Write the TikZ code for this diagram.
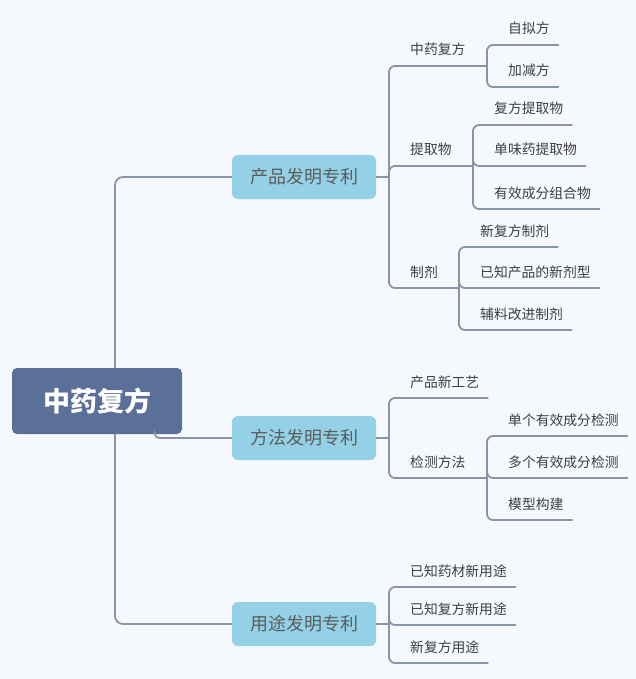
\documentclass[tikz,border=0pt]{standalone}
\usepackage{fontspec}
\setmainfont{Noto Sans CJK SC}
\usepackage{xcolor}
\usepackage{tikz}
\usetikzlibrary{positioning}
\definecolor{bgc}{HTML}{F5F9FD}
\definecolor{lnc}{HTML}{8A94A8}
\definecolor{catc}{HTML}{94D1E7}
\definecolor{rootc}{HTML}{5B7098}
\definecolor{txtc}{HTML}{3F3F3F}
\tikzset{
  root/.style={fill=rootc,rounded corners=5pt,minimum width=170pt,minimum height=66pt,text=white,font=\fontsize{27}{30}\selectfont\bfseries},
  cat/.style={fill=catc,rounded corners=6pt,minimum width=144pt,minimum height=44pt,text=txtc!85,font=\fontsize{18}{20}\selectfont},
  leaf/.style={anchor=base west,yshift=11pt,inner sep=0pt,text=txtc,font=\fontsize{13.8}{15}\selectfont},
  ln/.style={draw=lnc,line width=1.8pt},
  rc/.style={rounded corners=6pt},
}
\begin{document}
\begin{tikzpicture}[x=1pt,y=-1pt]
\fill[bgc] (0,0) rectangle (636,679);
\useasboundingbox (0,0) rectangle (636,679);
\node[root] (root) at (97,401) {中药复方};
\node[cat] (cp) at (304,177) {产品发明专利};
\node[cat] (ff) at (304,438) {方法发明专利};
\node[cat] (yt) at (304,624) {用途发明专利};
% trunk
\begin{scope}[on background layer/.style={}]
\draw[ln,rounded corners=8pt] ([xshift=18pt]root.north) |- (cp.west);
\draw[ln,rounded corners=8pt] ([xshift=18pt]root.south) |- (yt.west);
\draw[ln,rounded corners=4pt] ([xshift=58pt]root.south) |- (ff.west);
\end{scope}
% branch points
\coordinate (cpb) at (389,177);
\coordinate (ffb) at (389,438);
\coordinate (ytb) at (389,624);
\draw[ln] (cp.east) -- (cpb);
\draw[ln] (ff.east) -- (ffb);
\draw[ln] (yt.east) -- (ytb);
% 产品发明专利
\node[leaf] (zy) at (410,66) {中药复方};
\node[leaf] (tq) at (410,166) {提取物};
\node[leaf] (zj) at (410,288) {制剂};
\coordinate (zyb) at (487,66);
\coordinate (tqb) at (473,166);
\coordinate (zjb) at (459,288);
\draw[ln,rc] (cpb) |- (zyb);
\draw[ln,rc] (cpb) |- (tqb);
\draw[ln,rc] (cpb) |- (zjb);
\foreach \nm/\txt/\yy in {zn/自拟方/45,jj/加减方/87}
  {\node[leaf] (\nm) at (508,\yy) {\txt};
   \draw[ln,rc] (zyb) |- ([shift={(9,11)}]\nm.base east);}
\foreach \nm/\txt/\yy in {fq/复方提取物/125,dw/单味药提取物/166,yx/有效成分组合物/209}
  {\node[leaf] (\nm) at (494,\yy) {\txt};
   \draw[ln,rc] (tqb) |- ([shift={(9,11)}]\nm.base east);}
\foreach \nm/\txt/\yy in {xf/新复方制剂/247,yz/已知产品的新剂型/288,fl/辅料改进制剂/330}
  {\node[leaf] (\nm) at (480,\yy) {\txt};
   \draw[ln,rc] (zjb) |- ([shift={(9,11)}]\nm.base east);}
% 方法发明专利
\node[leaf] (gy) at (410,398) {产品新工艺};
\node[leaf] (jc) at (410,478) {检测方法};
\coordinate (jcb) at (487,478);
\draw[ln,rc] (ffb) |- ([shift={(9,11)}]gy.base east);
\draw[ln,rc] (ffb) |- (jcb);
\foreach \nm/\txt/\yy in {dg/单个有效成分检测/436,dd/多个有效成分检测/478,mx/模型构建/520}
  {\node[leaf] (\nm) at (508,\yy) {\txt};
   \draw[ln,rc] (jcb) |- ([shift={(9,11)}]\nm.base east);}
% 用途发明专利
\foreach \nm/\txt/\yy in {yc/已知药材新用途/587,yf/已知复方新用途/625,xy/新复方用途/663}
  {\node[leaf] (\nm) at (410,\yy) {\txt};
   \draw[ln,rc] (ytb) |- ([shift={(9,11)}]\nm.base east);}
\end{tikzpicture}
\end{document}
